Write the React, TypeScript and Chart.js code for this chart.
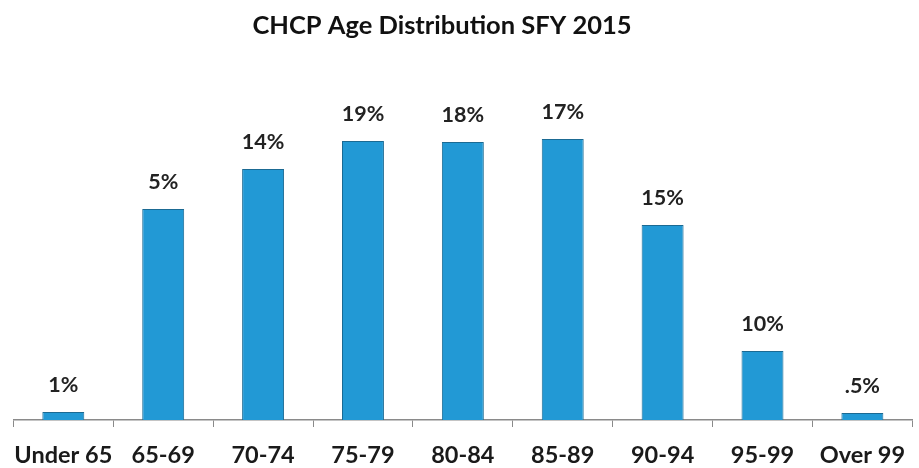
import React, { useEffect, useRef } from "react";
import { Chart, registerables } from "chart.js";

Chart.register(...registerables);

const titleText = "CHCP Age Distribution SFY 2015";
const categories = ["Under 65", "65-69", "70-74", "75-79", "80-84", "85-89", "90-94", "95-99", "Over 99"];
// bar heights as drawn in the picture (relative units)
const barValues = [8, 211, 251, 279, 278, 281, 195, 69, 7];
const percentLabels = ["1%", "5%", "14%", "19%", "18%", "17%", "15%", "10%", ".5%"];

const FONT = "Lato, 'Open Sans', sans-serif";

const labelPlugin = {
  id: "pctLabels",
  afterDatasetsDraw(chart: any) {
    const ctx = chart.ctx;
    const meta = chart.getDatasetMeta(0);
    ctx.save();
    ctx.font = `bold 21.5px ${FONT}`;
    ctx.fillStyle = "#222222";
    ctx.textAlign = "center";
    ctx.textBaseline = "middle";
    meta.data.forEach((bar: any, i: number) => {
      ctx.fillText(percentLabels[i], bar.x, bar.y - 27);
    });
    ctx.restore();
  },
};

const titlePlugin = {
  id: "customTitle",
  afterDraw(chart: any) {
    const ctx = chart.ctx;
    ctx.save();
    ctx.font = `bold 25.5px ${FONT}`;
    ctx.fillStyle = "#111111";
    ctx.textAlign = "center";
    ctx.textBaseline = "middle";
    ctx.fillText(titleText, 442, 26);
    ctx.restore();
  },
};

export default function App() {
  const ref = useRef<HTMLCanvasElement | null>(null);
  useEffect(() => {
    if (!ref.current) return;
    const chart = new Chart(ref.current, {
      type: "bar",
      data: {
        labels: categories,
        datasets: [
          {
            data: barValues,
            backgroundColor: "#2299d5",
            borderColor: "#1b6a93",
            borderWidth: 1,
            barPercentage: 0.42,
            categoryPercentage: 1,
          },
        ],
      },
      options: {
        animation: false,
        responsive: false,
        maintainAspectRatio: false,
        layout: { padding: { top: 60, left: 13, right: 0, bottom: 0 } },
        plugins: {
          legend: { display: false },
          title: { display: false },
          tooltip: { enabled: false },
        },
        scales: {
          x: {
            afterFit(scale: any) {
              scale.height = 48;
            },
            grid: {
              display: true,
              drawOnChartArea: false,
              drawTicks: true,
              tickLength: 7,
              color: "#8a8a8a",
              offset: true,
            },
            border: { display: true, color: "#8a8a8a", width: 1.5 },
            ticks: {
              color: "#1a1a1a",
              font: { family: FONT, size: 23.5, weight: "bold" },
              padding: 14,
              maxRotation: 0,
              autoSkip: false,
            },
          },
          y: {
            display: false,
            min: 0,
            max: 360,
          },
        },
      },
      plugins: [labelPlugin, titlePlugin],
    });
    return () => chart.destroy();
  }, []);
  return (
    <div style={{ position: "fixed", left: 0, top: 0, width: 919, height: 468, background: "#ffffff" }}>
      <canvas ref={ref} width={919} height={468} style={{ width: 919, height: 468 }} />
    </div>
  );
}
